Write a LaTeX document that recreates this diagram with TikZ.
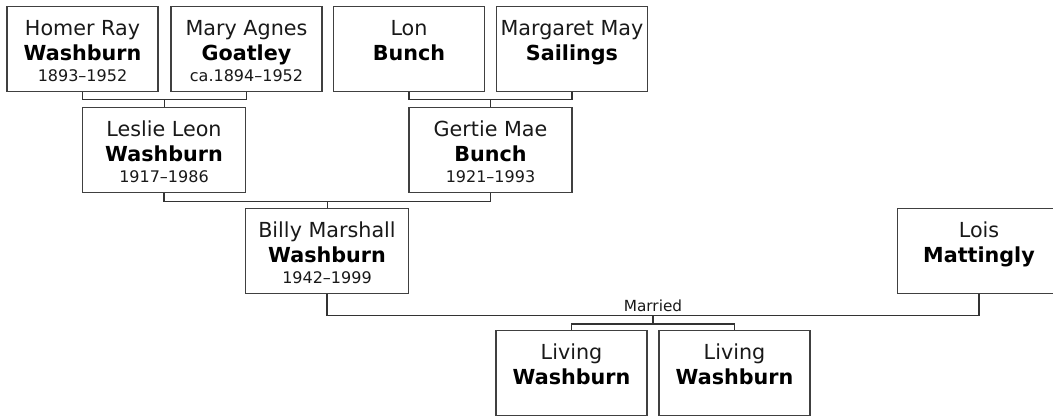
\documentclass[tikz,border=0pt]{standalone}
\usepackage{fontspec}
\setmainfont{DejaVu Sans}
\usetikzlibrary{calc}
\tikzset{
  box/.style={draw=black!75, line width=1.2pt, fill=white, minimum height=85pt, inner sep=0pt, anchor=north},
  nm/.style={font=\fontsize{20.7}{22}\selectfont, text=black!90, inner sep=0pt, anchor=base},
  nmb/.style={font=\fontsize{20.7}{22}\selectfont\bfseries, text=black, inner sep=0pt, anchor=base},
  dt/.style={font=\fontsize{16}{18}\selectfont, text=black!90, inner sep=0pt, anchor=base},
  lbl/.style={font=\fontsize{15.3}{17}\selectfont, text=black!90, inner sep=0pt, anchor=base},
  conn/.style={draw=black!80, line width=1.2pt}
}
\newcommand\personbox[7]{%
  \node[box, minimum width=#4] (#1) at (#2,#3) {};
  \node[nm] (#1-a) at ([yshift=-29.5pt]#1.north) {#5};
  \node[nmb] (#1-b) at ([yshift=-54.5pt]#1.north) {#6};
  \node[dt] (#1-c) at ([yshift=-75pt]#1.north) {#7};
}
\begin{document}
\begin{tikzpicture}[x=1pt, y=-1pt]
\useasboundingbox (0,0) rectangle (1053,416);
% generation 1
\personbox{homer}{82.5}{6}{151pt}{Homer Ray}{Washburn}{1893–1952}
\personbox{mary}{246.5}{6}{151pt}{Mary Agnes}{Goatley}{ca.1894–1952}
\personbox{lon}{409}{6}{151pt}{Lon}{Bunch}{}
\personbox{margaret}{572}{6}{151pt}{Margaret May}{Sailings}{}
% generation 2
\personbox{leslie}{164}{107}{163pt}{Leslie Leon}{Washburn}{1917–1986}
\personbox{gertie}{490.5}{107}{163pt}{Gertie Mae}{Bunch}{1921–1993}
% generation 3
\personbox{billy}{327}{208}{163pt}{Billy Marshall}{Washburn}{1942–1999}
\begin{scope}
\clip (0,0) rectangle (1053,416);
\personbox{lois}{979}{208}{163pt}{Lois}{Mattingly}{}
\end{scope}
% generation 4
\personbox{liv1}{571.5}{330}{151pt}{Living}{Washburn}{}
\personbox{liv2}{734.5}{330}{151pt}{Living}{Washburn}{}
% connectors
\coordinate (j1) at ($(homer.south)!0.5!(mary.south)+(0,7.3)$);
\draw[conn] (homer.south) |- (j1) -| (mary.south);
\draw[conn] (j1) -- (j1 |- leslie.north);
\coordinate (j2) at ($(lon.south)!0.5!(margaret.south)+(0,7.3)$);
\draw[conn] (lon.south) |- (j2) -| (margaret.south);
\draw[conn] (j2) -- (j2 |- gertie.north);
\coordinate (j3) at ($(leslie.south)!0.5!(gertie.south)+(0,8)$);
\draw[conn] (leslie.south) |- (j3) -| (gertie.south);
\draw[conn] (j3) -- (j3 |- billy.north);
\coordinate (j4) at ($(billy.south)!0.5!(lois.south)+(0,21.3)$);
\draw[conn] (billy.south) |- (j4) -| (lois.south);
\node[lbl] (married) at ([yshift=3.8pt]j4) {Married};
\coordinate (j5) at ($(j4)+(0,8.4)$);
\draw[conn] (j4) -- (j5);
\draw[conn] (liv1.north) |- (j5) -| (liv2.north);
\end{tikzpicture}
\end{document}
